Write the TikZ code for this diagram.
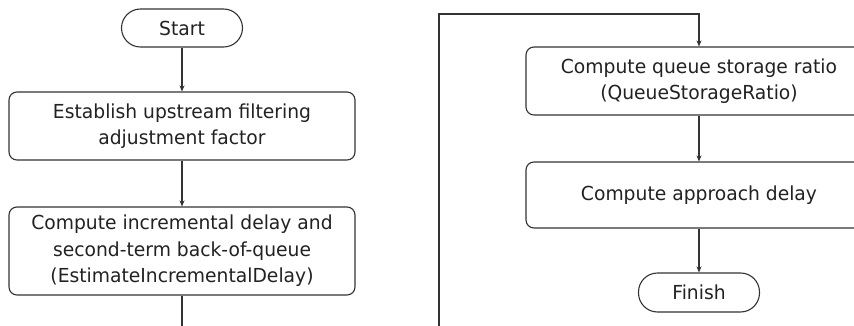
\documentclass[tikz,border=0pt]{standalone}
\usepackage{fontspec}
\setmainfont{DejaVu Sans}[FakeStretch=0.97]
\usetikzlibrary{arrows.meta}
\definecolor{ln}{HTML}{333333}
\definecolor{tx}{HTML}{222222}
\begin{document}
\begin{tikzpicture}[x=1pt,y=-1pt,
  every node/.style={font=\fontsize{19.3}{26.5}\selectfont, text=tx, align=center},
  procbox/.style={draw=ln, line width=1.1pt, rounded corners=8pt, minimum width=346pt, inner sep=0pt},
  term/.style={draw=ln, line width=1.1pt, rounded corners=19pt, minimum width=121pt, minimum height=38pt, inner sep=0pt},
  conn/.style={draw=ln, line width=1.2pt, -{Stealth[length=6pt,width=5pt]}},
  plain/.style={draw=ln, line width=1.2pt}]
\useasboundingbox (0,0) rectangle (854,326);
\fill[white] (0,0) rectangle (854,326);
\clip (0,0) rectangle (854,326);
\node[term] (start) at (182,28) {Start};
\node[procbox, minimum height=68pt] (b1) at (182,126) {Establish upstream filtering\\adjustment factor};
\node[procbox, minimum height=88pt] (b2) at (182,251) {Compute incremental delay and\\second-term back-of-queue\\(EstimateIncrementalDelay)};
\node[procbox, minimum height=68pt] (b3) at (699,81) {Compute queue storage ratio\\(QueueStorageRatio)};
\node[procbox, minimum height=66pt] (b4) at (699,195) {Compute approach delay};
\node[term, minimum height=39pt] (fin) at (699,292.5) {Finish};
\coordinate (down) at (182,332);
\coordinate (up) at (439,332);
\coordinate (top) at (439,14);
\draw[conn] (start) -- (b1);
\draw[conn] (b1) -- (b2);
\draw[plain] (b2) -- (down);
\draw[conn] (up) -- (top) -| (b3.north);
\draw[conn] (b3) -- (b4);
\draw[conn] (b4) -- (fin);
\end{tikzpicture}
\end{document}
